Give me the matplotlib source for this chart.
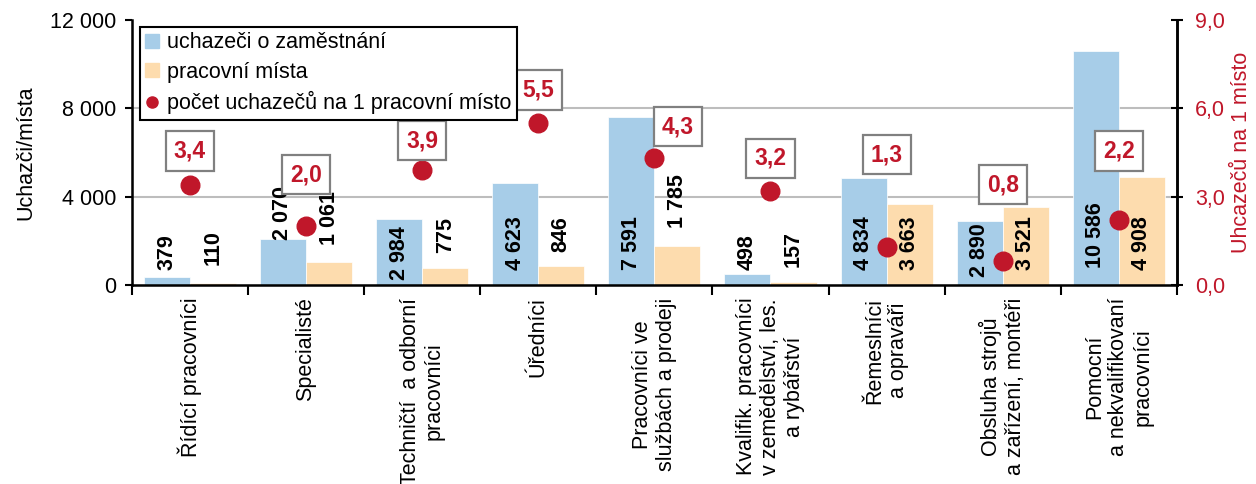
import numpy as np
from matplotlib import pyplot as plt
from matplotlib.lines import Line2D

plt.rcParams['font.family'] = ['Liberation Sans', 'DejaVu Sans']

categories = ["Řídící pracovníci",
              "Specialisté",
              "Techničtí  a odborní\npracovníci",
              "Úředníci",
              "Pracovníci ve\nslužbách a prodeji",
              "Kvalifik. pracovníci\nv zemědělství, les.\na rybářství",
              "Řemeslníci\na opraváři",
              "Obsluha strojů\na zařízení, montéři",
              "Pomocní\na nekvalifikovaní\npracovníci"]
uchazeci = [379, 2070, 2984, 4623, 7591, 498, 4834, 2890, 10586]
mista = [110, 1061, 775, 846, 1785, 157, 3663, 3521, 4908]
pomer = [3.4, 2.0, 3.9, 5.5, 4.3, 3.2, 1.3, 0.8, 2.2]

# label placement (layout only)
lab_u_bottom = [680, 2040, 230, 680, 680, 680, 680, 360, 770]
lab_m_bottom = [900, 1810, 1450, 1490, 2580, 815, 680, 680, 680]
box_y = [4.55, 3.74, 4.89, 6.62, 5.37, 4.31, 4.42, 3.40, 4.55]
box_dx = [0, 0, 0, 0, 0.2, 0, 0, 0, 0]

blue = "#a7cde8"
orange = "#fddcae"
red = "#c0172a"
fs = 15.5

def fmt(v):
    return "{:,}".format(v).replace(",", " ")

fig = plt.figure(figsize=[12.56, 4.84], dpi=100)
ax = fig.add_axes([0.105, 0.411, 0.832, 0.548])
x = np.arange(len(categories))
w = 0.397
ax.bar(x - w/2, uchazeci, w, color=blue, edgecolor="white", linewidth=0.5, zorder=2)
ax.bar(x + w/2, mista, w, color=orange, edgecolor="white", linewidth=0.5, zorder=2)
for i in range(len(x)):
    ax.text(x[i] - w/2, lab_u_bottom[i], fmt(uchazeci[i]), rotation=90, ha="center", va="bottom",
            fontsize=fs, fontweight="bold", zorder=5)
    ax.text(x[i] + w/2, lab_m_bottom[i], fmt(mista[i]), rotation=90, ha="center", va="bottom",
            fontsize=fs, fontweight="bold", zorder=5)

ax.set_xlim(-0.5, len(x) - 0.5)
ax.set_ylim(0, 12000)
ax.set_yticks([0, 4000, 8000, 12000])
ax.set_yticklabels([fmt(v) for v in [0, 4000, 8000, 12000]], fontsize=fs)
for v in [4000, 8000]:
    ax.axhline(v, color="#bdbdbd", linewidth=1.5, zorder=1)
ax.set_xticks(x)
ax.set_xticklabels(categories, rotation=90, fontsize=fs, multialignment="center")
ax.set_xticks(np.arange(-0.5, len(x)), minor=True)
ax.tick_params(axis="x", which="major", length=0, pad=9)
ax.tick_params(axis="x", which="minor", length=7, width=1.5, direction="out")
ax.tick_params(axis="y", length=5, width=1.5, direction="out", pad=6)
ax.set_ylabel("Uchazči/místa", fontsize=fs, labelpad=10)
ax.spines["top"].set_visible(False)
for s in ["left", "bottom", "right"]:
    ax.spines[s].set_linewidth(1.8)

ax2 = ax.twinx()
ax2.set_ylim(0, 9)
ax2.set_yticks([0, 3, 6, 9])
ax2.set_yticklabels(["0,0", "3,0", "6,0", "9,0"], fontsize=fs, color=red)
ax2.tick_params(axis="y", length=8, width=1.5, direction="inout", pad=9)
ax2.spines["top"].set_visible(False)
ax2.spines["right"].set_linewidth(1.8)
ax2.set_ylabel("Uhcazečů na 1 místo", fontsize=fs, color=red, labelpad=4)
ax2.scatter(x, pomer, s=180, color=red, zorder=6)
for i in range(len(x)):
    ax2.text(x[i] + box_dx[i], box_y[i], "{:.1f}".format(pomer[i]).replace(".", ","),
             ha="center", va="center", fontsize=16.5, fontweight="bold", color=red,
             bbox=dict(boxstyle="square,pad=0.35", facecolor="white", edgecolor="#808080", linewidth=1.6),
             zorder=7)

handles = [Line2D([], [], marker="s", linestyle="", color=blue, markersize=10),
           Line2D([], [], marker="s", linestyle="", color=orange, markersize=10),
           Line2D([], [], marker="o", linestyle="", color=red, markersize=8)]
leg = ax2.legend(handles, ["uchazeči o zaměstnání", "pracovní místa", "počet uchazečů na 1 pracovní místo"],
                 loc="upper left", bbox_to_anchor=(0.008, 0.974), borderaxespad=0, fontsize=fs,
                 handlelength=0.6, handletextpad=0.4, fancybox=False, framealpha=1,
                 edgecolor="black", borderpad=0.25, labelspacing=0.4)
leg.get_frame().set_linewidth(1.5)
leg.set_zorder(10)

fig.savefig("out.png", dpi=100)
